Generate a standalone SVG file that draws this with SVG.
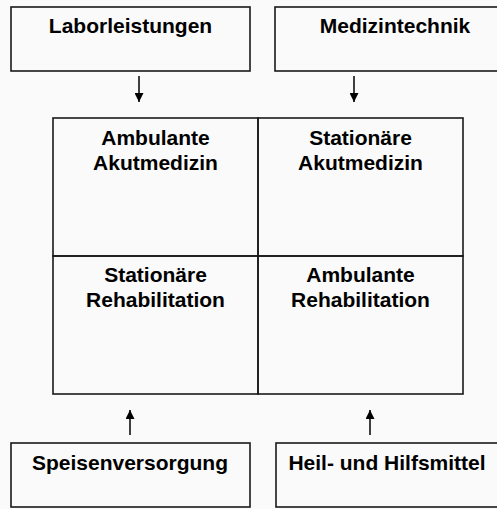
<svg xmlns="http://www.w3.org/2000/svg" width="497" height="509" viewBox="0 0 497 509">
<defs>
<style>
.box{fill:none;stroke:#1a1a1a;stroke-width:1.6}
.t{font-family:"Liberation Sans",Arial,sans-serif;font-weight:bold;font-size:21px;fill:#000;text-anchor:middle}
.con{stroke:#000;stroke-width:1.5;fill:none}
</style>
<marker id="ah" viewBox="0 0 10 10" refX="10" refY="5" markerWidth="9" markerHeight="9" markerUnits="userSpaceOnUse" orient="auto">
<path d="M0,0 L10,5 L0,10 z" fill="#000"/>
</marker>
</defs>
<rect width="497" height="509" fill="#fafafa"/>
<g id="laborleistungen">
<rect class="box" x="11" y="7" width="239" height="64"/>
<text class="t" x="130.5" y="33">Laborleistungen</text>
</g>
<g id="medizintechnik">
<rect class="box" x="275" y="7" width="240" height="64"/>
<text class="t" x="395" y="33">Medizintechnik</text>
</g>
<g id="ambulante-akutmedizin">
<rect class="box" x="53" y="118" width="205" height="138"/>
<text class="t" x="155.5" y="145">Ambulante</text>
<text class="t" x="155.5" y="170">Akutmedizin</text>
</g>
<g id="stationaere-akutmedizin">
<rect class="box" x="258" y="118" width="205" height="138"/>
<text class="t" x="360.5" y="145">Stationäre</text>
<text class="t" x="360.5" y="170">Akutmedizin</text>
</g>
<g id="stationaere-rehabilitation">
<rect class="box" x="53" y="256" width="205" height="138"/>
<text class="t" x="155.5" y="282">Stationäre</text>
<text class="t" x="155.5" y="307">Rehabilitation</text>
</g>
<g id="ambulante-rehabilitation">
<rect class="box" x="258" y="256" width="205" height="138"/>
<text class="t" x="360.5" y="282">Ambulante</text>
<text class="t" x="360.5" y="307">Rehabilitation</text>
</g>
<g id="speisenversorgung">
<rect class="box" x="11" y="443" width="239" height="64"/>
<text class="t" x="130" y="470">Speisenversorgung</text>
</g>
<g id="heil-und-hilfsmittel">
<rect class="box" x="276" y="443" width="240" height="64"/>
<text class="t" x="387" y="470">Heil- und Hilfsmittel</text>
</g>
<g id="connectors">
<line class="con" x1="139" y1="76" x2="139" y2="102" marker-end="url(#ah)"/>
<line class="con" x1="354" y1="76" x2="354" y2="102" marker-end="url(#ah)"/>
<line class="con" x1="130" y1="435" x2="130" y2="410" marker-end="url(#ah)"/>
<line class="con" x1="370" y1="435" x2="370" y2="410" marker-end="url(#ah)"/>
</g>
</svg>
